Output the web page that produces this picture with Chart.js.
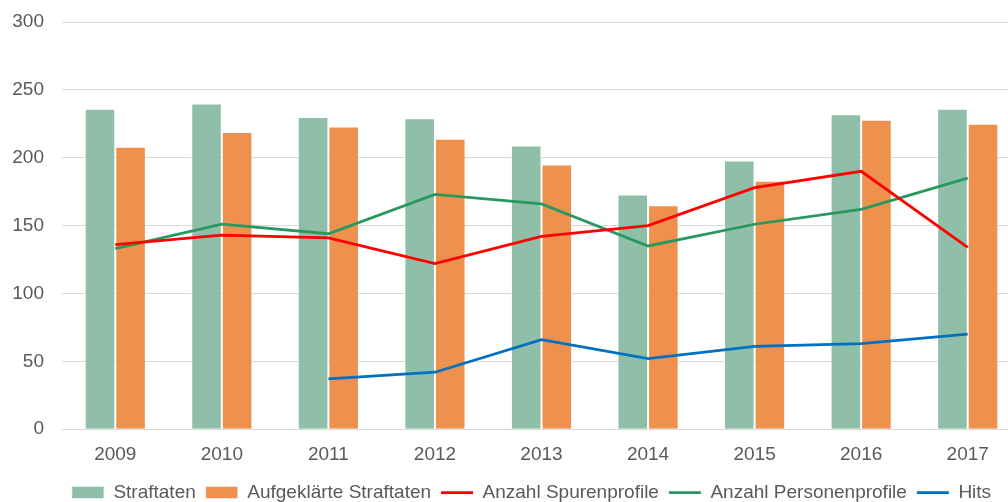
<!DOCTYPE html>
<html>
<head>
<meta charset="utf-8">
<script src="https://cdn.jsdelivr.net/npm/chart.js@4"></script>
<style>
  html, body { margin: 0; padding: 0; background: #fff; overflow: hidden; }
  #wrap { position: absolute; left: 0; top: 0; width: 1021px; height: 502px; }
</style>
</head>
<body>
<div id="wrap"><canvas id="chart" width="1021" height="502"></canvas></div>
<script>
// Data
const years = ['2009', '2010', '2011', '2012', '2013', '2014', '2015', '2016', '2017'];
const straftaten = [236, 240, 230, 229, 209, 173, 198, 232, 236];
const aufgeklaert = [208, 219, 223, 214, 195, 165, 183, 228, 225];
const spurenprofile = [136, 143, 141, 122, 142, 150, 178, 190, 134];
const personenprofile = [133, 151, 144, 173, 166, 135, 151, 162, 185];
const hits = [null, null, 37, 42, 66, 52, 61, 63, 70];
const yTicks = [0, 50, 100, 150, 200, 250, 300];

const textColor = '#595959';
const gridColor = '#d9d9d9';
Chart.defaults.font.family = "'Liberation Sans', Arial, sans-serif";
Chart.defaults.font.size = 19;
Chart.defaults.color = textColor;

function lineSet(label, data, color) {
  return {
    type: 'line', label: label, data: data,
    borderColor: color, backgroundColor: color, borderWidth: 2.75,
    pointRadius: 0, pointStyle: 'line', tension: 0, order: 1
  };
}

// nudge the legend a bit so it sits like the original
const legendShift = {
  id: 'legendShift',
  afterLayout(c) {
    const l = c.legend;
    l.left += 16; l.right += 16;
    l.top -= 7; l.bottom -= 7;
  }
};

const ctx = document.getElementById('chart').getContext('2d');
const chart = new Chart(ctx, {
  type: 'bar',
  data: {
    labels: years,
    datasets: [
      { label: 'Straftaten', data: straftaten, backgroundColor: '#8fbfa8', borderColor: 'rgba(255,255,255,0.5)', borderWidth: 1, pointStyle: 'rect', order: 2, categoryPercentage: 0.574, barPercentage: 1 },
      { label: 'Aufgeklärte Straftaten', data: aufgeklaert, backgroundColor: '#ee914f', borderColor: 'rgba(255,255,255,0.5)', borderWidth: 1, pointStyle: 'rect', order: 2, categoryPercentage: 0.574, barPercentage: 1 },
      lineSet('Anzahl Spurenprofile', spurenprofile, '#ff0000'),
      lineSet('Anzahl Personenprofile', personenprofile, '#28985f'),
      lineSet('Hits', hits, '#0070c0')
    ]
  },
  plugins: [legendShift],
  options: {
    responsive: false,
    animation: false,
    layout: { padding: { left: 10, right: 0, top: 22, bottom: -17 } },
    plugins: {
      tooltip: { enabled: false },
      legend: {
        position: 'bottom',
        labels: {
          usePointStyle: true,
          pointStyleWidth: 32,
          boxHeight: 12,
          padding: 10,
          color: textColor,
          sort: (a, b) => a.datasetIndex - b.datasetIndex
        }
      }
    },
    scales: {
      x: {
        grid: { display: false, drawTicks: false },
        border: { display: true, color: gridColor, width: 1 },
        ticks: { padding: 14, color: textColor }
      },
      y: {
        min: yTicks[0], max: yTicks[yTicks.length - 1],
        afterFit: s => { s.width = 52; s.paddingTop = 0; s.paddingBottom = 0; },
        grid: { color: gridColor, lineWidth: 1, drawTicks: false },
        border: { display: false },
        ticks: { stepSize: yTicks[1] - yTicks[0], padding: 18, color: textColor }
      }
    }
  }
});
</script>
</body>
</html>
